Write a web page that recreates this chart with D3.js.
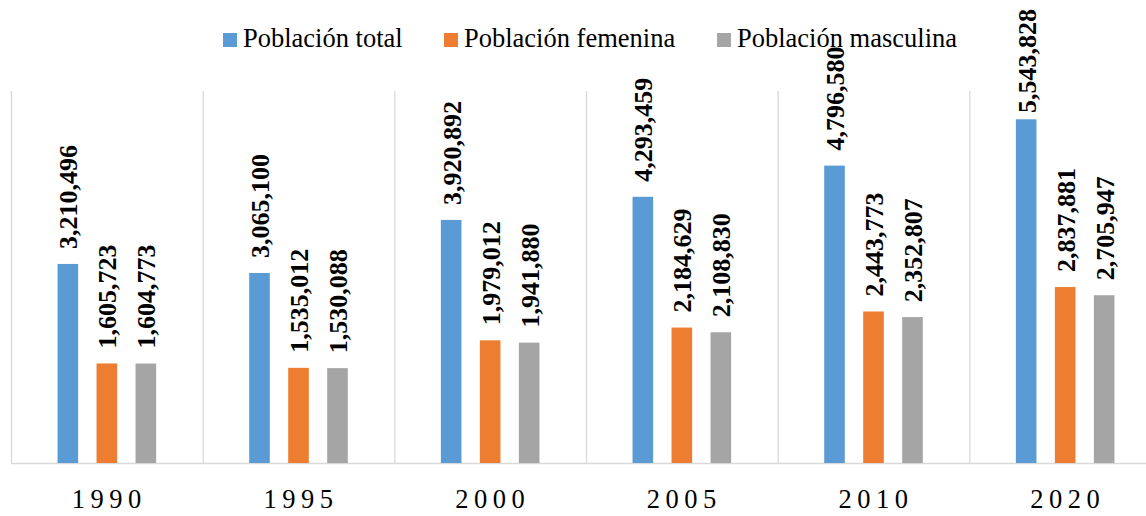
<!DOCTYPE html>
<html>
<head>
<meta charset="utf-8">
<script src="https://cdn.jsdelivr.net/npm/d3@7"></script>
<style>
  html, body { margin: 0; padding: 0; background: #fff; }
  svg { display: block; }
  svg text { font-family: "Liberation Serif", "Times New Roman", serif; }
</style>
</head>
<body>
<svg id="chart" width="1146" height="516"></svg>
<script>
const years = ["1990", "1995", "2000", "2005", "2010", "2020"];
const seriesNames = ["Población total", "Población femenina", "Población masculina"];
const total = [3210496, 3065100, 3920892, 4293459, 4796580, 5543828];
const femenina = [1605723, 1535012, 1979012, 2184629, 2443773, 2837881];
const masculina = [1604773, 1530088, 1941880, 2108830, 2352807, 2705947];
const colors = ["#5b9bd5", "#ed7d31", "#a5a5a5"];

const seriesValues = [total, femenina, masculina];
const svg = d3.select("#chart");
const W = 1146, H = 516;

const plot = { left: 11, right: 1161, top: 91, bottom: 463 };

const x0 = d3.scaleBand().domain(years).range([plot.left, plot.right]).paddingInner(0).paddingOuter(0);
const bw = 20.6, step = 39;
const x1 = d3.scalePoint().domain(seriesNames).range([-step, step]);
const y = d3.scaleLinear().domain([0, 6000000]).range([plot.bottom, plot.top]);

// vertical separators
svg.append("g").selectAll("line")
  .data(years)
  .join("line")
  .attr("x1", d => x0(d) + 0.5).attr("x2", d => x0(d) + 0.5)
  .attr("y1", plot.top).attr("y2", plot.bottom)
  .attr("stroke", "#d9d9d9").attr("stroke-width", 1.3);

// baseline
svg.append("line")
  .attr("x1", plot.left).attr("x2", W)
  .attr("y1", plot.bottom + 0.5).attr("y2", plot.bottom + 0.5)
  .attr("stroke", "#d9d9d9").attr("stroke-width", 1.5);

const fmt = d3.format(",");

seriesNames.forEach((s, si) => {
  const g = svg.append("g");
  const data = years.map((yr, i) => ({ yr, v: seriesValues[si][i] }));
  g.selectAll("rect").data(data).join("rect")
    .attr("x", d => x0(d.yr) + x0.bandwidth() / 2 + x1(s) - bw / 2)
    .attr("y", d => y(d.v))
    .attr("width", bw)
    .attr("height", d => y(0) - y(d.v))
    .attr("fill", colors[si]);

  g.selectAll("text").data(data).join("text")
    .attr("transform", d => {
      const cx = x0(d.yr) + x0.bandwidth() / 2 + x1(s);
      const ty = Math.max(y(d.v) - 15, 113);
      return `translate(${cx},${ty}) rotate(-90)`;
    })
    .attr("dy", "0.36em")
    .attr("text-anchor", "start")
    .style("font-weight", "bold")
    .style("font-size", "26px")
    .attr("fill", "#000")
    .text(d => fmt(d.v));
});

// x axis labels
svg.append("g").selectAll("text")
  .data(years)
  .join("text")
  .attr("x", d => x0(d) + x0.bandwidth() / 2 + 2.5)
  .attr("y", 508)
  .attr("text-anchor", "middle")
  .style("font-size", "26.5px")
  .style("letter-spacing", "5.5px")
  .attr("fill", "#000")
  .text(d => d);

// legend
const legendX = [223, 444, 717];
const lg = svg.append("g");
seriesNames.forEach((s, i) => {
  lg.append("rect")
    .attr("x", legendX[i]).attr("y", 33)
    .attr("width", 14).attr("height", 14)
    .attr("fill", colors[i]);
  lg.append("text")
    .attr("x", legendX[i] + 20).attr("y", 47)
    .style("font-size", "26.5px")
    .attr("fill", "#000")
    .text(s);
});
</script>
</body>
</html>
